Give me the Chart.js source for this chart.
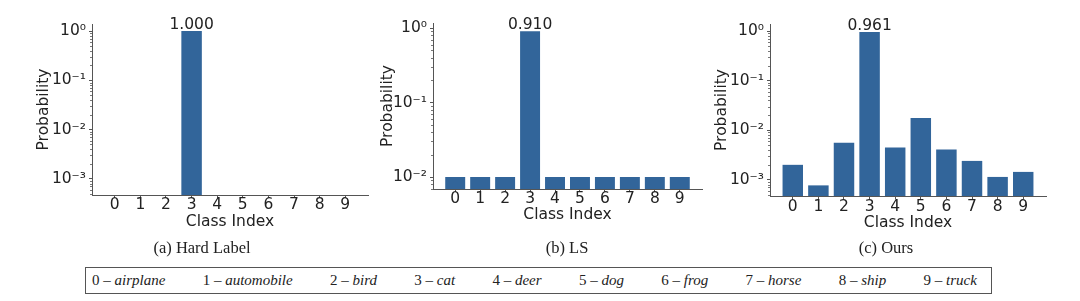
<!DOCTYPE html>
<html>
<head>
<meta charset="utf-8">
<script src="https://cdn.jsdelivr.net/npm/chart.js@4.4.0/dist/chart.umd.min.js"></script>
<style>
  body { margin: 0; width: 1080px; height: 301px; background: #fff; position: relative; overflow: hidden; }
  canvas { position: absolute; top: 0; }
  .cap { position: absolute; top: 238px; line-height: 20px; font-family: "Liberation Serif", serif; font-size: 16.5px; color: #222; transform: translateX(-50%); white-space: nowrap; }
  #legend { position: absolute; left: 85px; top: 267px; width: 907px; height: 27px; box-sizing: border-box; border: 1px solid #555;
            display: flex; justify-content: space-between; align-items: center; padding: 0 14px 0 6px;
            font-family: "Liberation Serif", serif; font-size: 15px; color: #222; }
</style>
</head>
<body>
<canvas id="chartHard" width="380" height="240" style="left:0px"></canvas>
<canvas id="chartLS" width="360" height="240" style="left:360px"></canvas>
<canvas id="chartOurs" width="380" height="240" style="left:700px"></canvas>
<div class="cap" style="left:202px">(a) Hard Label</div>
<div class="cap" style="left:567px">(b) LS</div>
<div class="cap" style="left:886px">(c) Ours</div>
<div id="legend"></div>
<script>
const classIdx = [0, 1, 2, 3, 4, 5, 6, 7, 8, 9];
const classNames = ['airplane', 'automobile', 'bird', 'cat', 'deer', 'dog', 'frog', 'horse', 'ship', 'truck'];

// probabilities per class (log axis, zeros are not drawn)
const hardProbs = [null, null, null, 1.0, null, null, null, null, null, null];
const lsProbs = [0.01, 0.01, 0.01, 0.91, 0.01, 0.01, 0.01, 0.01, 0.01, 0.01];
const oursProbs = [0.0020, 0.00077, 0.0056, 0.961, 0.0045, 0.0176, 0.0041, 0.0024, 0.00114, 0.00144];

const hardTicks = [1e-3, 1e-2, 1e-1, 1];
const lsTicks = [1e-2, 1e-1, 1];
const oursTicks = [1e-3, 1e-2, 1e-1, 1];

const tickText = { '1': '10\u2070', '0.1': '10\u207B\u00B9', '0.01': '10\u207B\u00B2', '0.001': '10\u207B\u00B3' };

const barColor = '#32659a';
const inkColor = '#222';
const axisColor = '#555';
const mainFont = { family: 'DejaVu Sans', size: 15.5 };

// small log minor ticks, placed through the y scale
const minorTicks = {
  id: 'minorTicks',
  afterDraw(chart) {
    const s = chart.scales.y;
    const ctx = chart.ctx;
    ctx.save();
    ctx.strokeStyle = axisColor;
    ctx.lineWidth = 0.8;
    for (let e = -4; e <= 0; e++) {
      for (let m = 2; m <= 9; m++) {
        const v = m * Math.pow(10, e);
        if (v < s.min || v > s.max) continue;
        const py = Math.round(s.getPixelForValue(v)) + 0.5;
        ctx.beginPath();
        ctx.moveTo(s.right - 2, py);
        ctx.lineTo(s.right, py);
        ctx.stroke();
      }
    }
    ctx.restore();
  }
};

// value label above the tallest bar
const peakLabel = {
  id: 'peakLabel',
  afterDatasetsDraw(chart) {
    const ds = chart.data.datasets[0].data;
    let best = -1;
    ds.forEach((d, i) => { if (d.y != null && (best < 0 || d.y > ds[best].y)) best = i; });
    if (best < 0) return;
    const el = chart.getDatasetMeta(0).data[best];
    const ctx = chart.ctx;
    ctx.save();
    ctx.fillStyle = inkColor;
    ctx.font = mainFont.size + 'px "' + mainFont.family + '"';
    ctx.textAlign = 'center';
    ctx.textBaseline = 'bottom';
    ctx.fillText(ds[best].y.toFixed(3), el.x, el.y + 2);
    ctx.restore();
  }
};

function makeChart(id, values, ticks, yMin, yMax, box) {
  return new Chart(document.getElementById(id), {
    type: 'bar',
    data: {
      datasets: [{
        data: classIdx.map((c, i) => ({ x: c, y: values[i] })),
        backgroundColor: barColor,
        categoryPercentage: 1,
        barPercentage: 0.8
      }]
    },
    options: {
      responsive: false,
      animation: false,
      devicePixelRatio: 1,
      layout: { padding: { left: 0, right: box.right, top: box.top, bottom: 0 } },
      plugins: { legend: { display: false }, tooltip: { enabled: false } },
      scales: {
        x: {
          type: 'linear',
          offset: false,
          min: -0.89,
          max: 9.89,
          afterBuildTicks: s => { s.ticks = classIdx.map(v => ({ value: v })); },
          afterFit: s => { s.height = box.xh; },
          ticks: { color: inkColor, font: mainFont, padding: box.xpad, maxRotation: 0, autoSkip: false, callback: v => String(v) },
          grid: { offset: false, drawOnChartArea: false, drawTicks: true, tickLength: 3, tickColor: axisColor },
          border: { color: axisColor, width: 1 },
          title: { display: true, text: 'Class Index', color: inkColor, font: mainFont, padding: { top: 0, bottom: box.xtp } }
        },
        y: {
          type: 'logarithmic',
          min: yMin,
          max: yMax,
          afterBuildTicks: s => { s.ticks = ticks.map(v => ({ value: v })); },
          afterFit: s => { s.width = box.yw; },
          ticks: { color: inkColor, font: mainFont, padding: 3, autoSkip: false, callback: v => tickText[String(v)] || '' },
          grid: { drawOnChartArea: false, drawTicks: true, tickLength: 3, tickColor: axisColor },
          border: { color: axisColor, width: 1 },
          title: { display: true, text: 'Probability', color: inkColor, font: mainFont, padding: { top: box.ytp, bottom: 0 } }
        }
      }
    },
    plugins: [minorTicks, peakLabel]
  });
}

makeChart('chartHard', hardProbs, hardTicks, 4.7e-4, 1.39, { right: 12, top: 24, yw: 92, xh: 45, ytp: 34.5, xtp: 9, xpad: -2 });
makeChart('chartLS', lsProbs, lsTicks, 0.0069, 1.17, { right: 18, top: 23, yw: 73, xh: 51, ytp: 18.5, xtp: 16, xpad: -2 });
makeChart('chartOurs', oursProbs, oursTicks, 4.7e-4, 1.39, { right: 34, top: 24, yw: 70, xh: 44, ytp: 12.5, xtp: 8, xpad: -1 });

const legend = document.getElementById('legend');
classNames.forEach((name, i) => {
  const span = document.createElement('span');
  span.innerHTML = classIdx[i] + ' \u2013 <i>' + name + '</i>';
  legend.appendChild(span);
});
</script>
</body>
</html>
